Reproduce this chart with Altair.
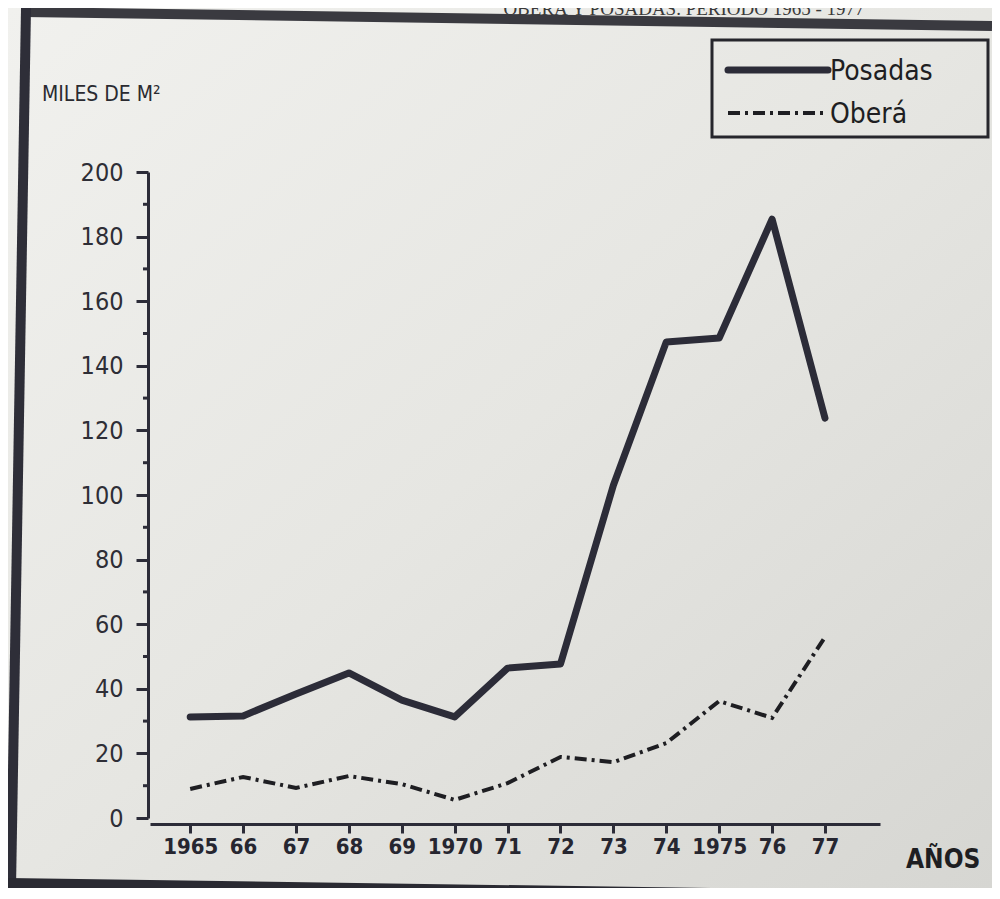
import altair as alt
import pandas as pd

# ---- data ----
years = [1965, 1966, 1967, 1968, 1969, 1970, 1971, 1972, 1973, 1974, 1975, 1976, 1977]
year_labels = ["1965", "66", "67", "68", "69", "1970", "71", "72", "73", "74", "1975", "76", "77"]
posadas = [31.3, 31.6, 38.4, 44.9, 36.5, 31.3, 46.4, 47.7, 103.0, 147.4, 148.6, 185.4, 123.8]
obera = [9.0, 12.7, 9.3, 13.0, 10.5, 5.6, 10.8, 18.9, 17.3, 23.2, 36.2, 31.0, 56.0]
y_major = [0, 20, 40, 60, 80, 100, 120, 140, 160, 180, 200]
y_minor = [10, 30, 50, 70, 90, 110, 130, 150, 170, 190]

df = pd.DataFrame({
    "year": years * 2,
    "value": posadas + obera,
    "serie": ["Posadas"] * len(years) + ["Oberá"] * len(years),
})
minor_df = pd.DataFrame({"value": y_minor})
one = pd.DataFrame({"k": [0]})

W, H = 984, 880
INK = "#2c2c38"
COND = "DejaVu Sans Condensed, Liberation Sans Narrow, DejaVu Sans, sans-serif"

label_expr = "[" + ",".join("'%s'" % s for s in year_labels) + "][indexof([" + \
    ",".join(str(y) for y in years) + "], datum.value)]"

xscale = alt.Scale(domain=[1964.24, 1978.04], range=[142, 872], nice=False, zero=False)
yscale = alt.Scale(domain=[0, 200], range=[810, 164], nice=False, zero=False)

xaxis = alt.Axis(values=years, labelExpr=label_expr, title=None, grid=False,
                 orient="bottom", offset=-64, domainWidth=3, domainColor=INK,
                 tickSize=9, tickWidth=3, tickColor=INK, labelFont=COND,
                 labelFontSize=22, labelFontWeight="bold", labelColor="#262630",
                 labelPadding=3, labelFlush=False, labelOverlap=False, zindex=1)
yaxis = alt.Axis(values=y_major, title=None, grid=False, orient="left", offset=-140,
                 domainWidth=3, domainColor=INK, tickSize=12, tickWidth=3,
                 tickColor=INK, labelFont=COND, labelFontSize=25,
                 labelColor="#2e2e36", labelPadding=13, labelFlush=False,
                 labelOverlap=False, zindex=1)

X = alt.X("year:Q", scale=xscale, axis=xaxis)
Y = alt.Y("value:Q", scale=yscale, axis=yaxis)

# paper background
paper = alt.Chart(one).mark_rect(
    fill=alt.Gradient(gradient="linear", x1=0, y1=0, x2=1, y2=1,
                      stops=[alt.GradientStop(offset=0, color="#f1f1ee"),
                             alt.GradientStop(offset=0.5, color="#e6e6e2"),
                             alt.GradientStop(offset=1, color="#d6d6d2")])
).encode(x=alt.value(0), x2=alt.value(W), y=alt.value(0), y2=alt.value(H))

# scanned frame
frame_top = alt.Chart(one).mark_rule(strokeWidth=10, color="#3a3a40").encode(
    x=alt.value(16), y=alt.value(4), x2=alt.value(W), y2=alt.value(18))
frame_left = alt.Chart(one).mark_rule(strokeWidth=10, color="#2e2e38").encode(
    x=alt.value(18), y=alt.value(0), x2=alt.value(3), y2=alt.value(880))
frame_bottom = alt.Chart(one).mark_rule(strokeWidth=12, color="#2a2a32").encode(
    x=alt.value(0), y=alt.value(876), x2=alt.value(W), y2=alt.value(890))

title_txt = alt.Chart(one).mark_text(
    text="OBERÁ Y POSADAS. PERIODO 1965 - 1977", font="Liberation Serif",
    fontSize=19, color="#3a3a3a", align="center", baseline="alphabetic"
).encode(x=alt.value(676), y=alt.value(7))

# minor ticks on the y axis
minor = alt.Chart(minor_df).mark_rule(strokeWidth=3, color=INK).encode(
    y=Y, x=alt.value(135), x2=alt.value(140))

line_pos = alt.Chart(df).transform_filter(alt.datum.serie == "Posadas").mark_line(
    strokeWidth=7, color=INK, strokeJoin="round", strokeCap="round"
).encode(x=X, y=Y)
line_obe = alt.Chart(df).transform_filter(alt.datum.serie == "Oberá").mark_line(
    strokeWidth=4, color="#1e1e22", strokeDash=[12, 5, 3, 5]
).encode(x=X, y=Y)

ylab = alt.Chart(one).mark_text(
    text="MILES DE M²", font=COND, fontSize=21, color="#2a2a30",
    align="left", baseline="alphabetic"
).encode(x=alt.value(34), y=alt.value(93))
xlab = alt.Chart(one).mark_text(
    text="AÑOS", font=COND, fontSize=26, fontWeight="bold", color="#1e1e22",
    align="left", baseline="alphabetic"
).encode(x=alt.value(898), y=alt.value(860))

# legend box
leg_box = alt.Chart(one).mark_rect(fillOpacity=0, stroke="#26262c", strokeWidth=3).encode(
    x=alt.value(704), x2=alt.value(980), y=alt.value(32), y2=alt.value(129))
leg_pos = alt.Chart(one).mark_rule(strokeWidth=7, color=INK, strokeCap="round").encode(
    x=alt.value(720), x2=alt.value(820), y=alt.value(62), y2=alt.value(62))
leg_obe = alt.Chart(one).mark_rule(strokeWidth=4, color="#1e1e22",
                                    strokeDash=[12, 5, 3, 5]).encode(
    x=alt.value(720), x2=alt.value(820), y=alt.value(105), y2=alt.value(105))
leg_t1 = alt.Chart(one).mark_text(
    text="Posadas", font=COND, fontSize=28, color="#1e1e22", align="left",
    baseline="alphabetic").encode(x=alt.value(822), y=alt.value(72))
leg_t2 = alt.Chart(one).mark_text(
    text="Oberá", font=COND, fontSize=28, color="#1e1e22", align="left",
    baseline="alphabetic").encode(x=alt.value(822), y=alt.value(115))

chart = alt.layer(
    paper, frame_top, frame_left, frame_bottom, title_txt, minor,
    line_obe, line_pos, ylab, xlab, leg_box, leg_pos, leg_obe, leg_t1, leg_t2
).properties(
    width=W, height=H, padding=0, autosize=alt.AutoSizeParams(type="none"),
    background="#ecece9"
).configure_view(stroke=None)

chart.save("out.html", embed_options={"renderer": "svg", "actions": False})
